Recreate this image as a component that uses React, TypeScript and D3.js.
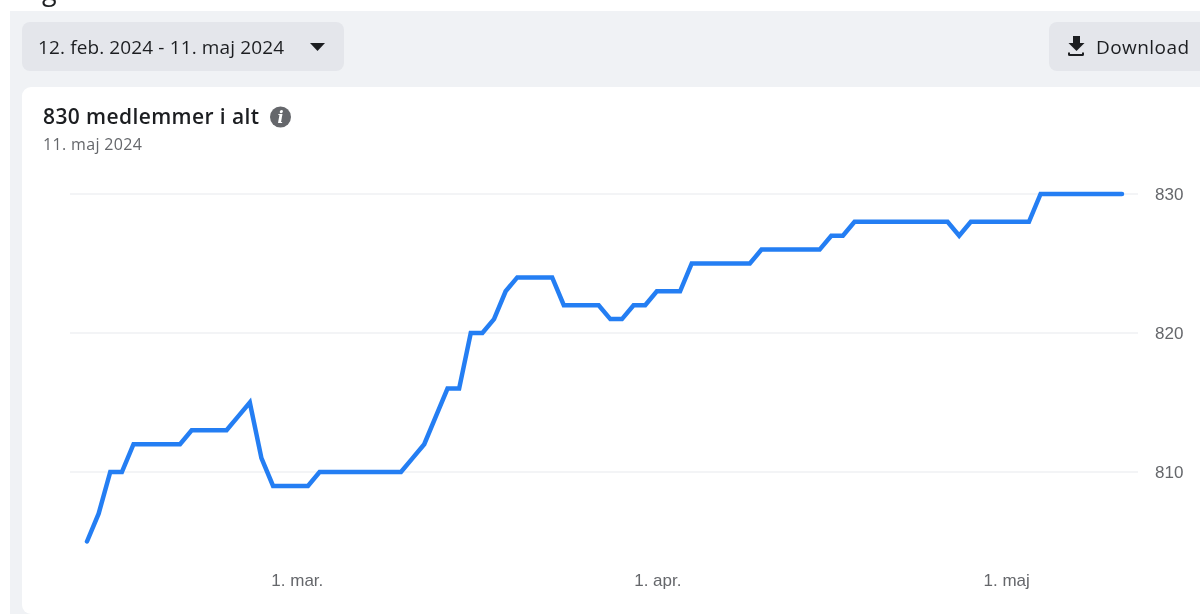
import * as d3 from "d3";

const startDate = new Date(2024, 1, 12);
// one value per day, 12 Feb to 11 May 2024
const members = [
  805, 807, 810, 810, 812, 812, 812, 812, 812, 813,
  813, 813, 813, 814, 815, 811, 809, 809, 809, 809,
  810, 810, 810, 810, 810, 810, 810, 810, 811, 812,
  814, 816, 816, 820, 820, 821, 823, 824, 824, 824,
  824, 822, 822, 822, 822, 821, 821, 822, 822, 823,
  823, 823, 825, 825, 825, 825, 825, 825, 826, 826,
  826, 826, 826, 826, 827, 827, 828, 828, 828, 828,
  828, 828, 828, 828, 828, 827, 828, 828, 828, 828,
  828, 828, 830, 830, 830, 830, 830, 830, 830, 830,
];
const yTicks = [810, 820, 830];
const xTickDates = [new Date(2024, 2, 1), new Date(2024, 3, 1), new Date(2024, 4, 1)];
const xTickLabels = ["1. mar.", "1. apr.", "1. maj"];

const WIDTH = 1200;
const HEIGHT = 614;
const UI_FONT = "'Open Sans', 'Noto Sans', sans-serif";
const AXIS_FONT = "'Liberation Sans', Arial, sans-serif";

export default function App() {
  const series = members.map((v, i) => ({
    date: d3.timeDay.offset(startDate, i),
    value: v,
  }));

  const xScale = d3
    .scaleTime()
    .domain([startDate, series[series.length - 1].date])
    .range([87, 1122]);
  const yScale = d3.scaleLinear().domain([810, 830]).range([472, 194]);

  const line = d3
    .line<{ date: Date; value: number }>()
    .x((d) => xScale(d.date))
    .y((d) => yScale(d.value));

  return (
    <svg
      width={WIDTH}
      height={HEIGHT}
      style={{ position: "fixed", left: 0, top: 0, display: "block" }}
    >
      <rect width={WIDTH} height={HEIGHT} fill="#ffffff" />
      <text x={42} y={0} fontFamily={UI_FONT} fontSize={27} fill="#1c1e21">
        g
      </text>

      {/* Page background */}
      <rect x={10} y={11} width={WIDTH} height={HEIGHT} fill="#f0f2f5" />

      {/* Date range button */}
      <rect x={22} y={22} width={322} height={49} rx={8} fill="#e4e6eb" />
      <text
        x={38}
        y={54}
        fontFamily={UI_FONT}
        fontSize={19}
        textLength={246}
        fill="#1c1e21"
      >
        12. feb. 2024 - 11. maj 2024
      </text>
      <path d="M310,43 h15 l-7.5,8 z" fill="#1c1e21" />

      {/* Download button */}
      <rect x={1049} y={22} width={170} height={49} rx={8} fill="#e4e6eb" />
      <path
        d="M1073,36 h7 v7 h4.5 l-8,8 l-8,-8 h4.5 z M1068,52.5 h0 v2 a1.5,1.5 0 0 0 1.5,1.5 h13 a1.5,1.5 0 0 0 1.5,-1.5 v-2 h-2 v1.5 h-12 v-1.5 z"
        fill="#1c1e21"
      />
      <text
        x={1096}
        y={54}
        fontFamily={UI_FONT}
        fontSize={19}
        textLength={93}
        fill="#1c1e21"
      >
        Download
      </text>

      {/* Card */}
      <rect x={22} y={87} width={1300} height={527} rx={9} fill="#ffffff" />
      <text
        x={43}
        y={124}
        fontFamily={UI_FONT}
        fontSize={21}
        fontWeight={600}
        textLength={216}
        fill="#1c1e21"
      >
        830 medlemmer i alt
      </text>
      <circle cx={280.5} cy={117} r={10.5} fill="#65676b" />
      <text
        x={280.5}
        y={123}
        textAnchor="middle"
        fontFamily="'DejaVu Serif', serif"
        fontSize={16}
        fontWeight={700}
        fontStyle="italic"
        fill="#ffffff"
      >
        i
      </text>
      <text
        x={43}
        y={150}
        fontFamily={UI_FONT}
        fontSize={16}
        textLength={99}
        fill="#65676b"
      >
        11. maj 2024
      </text>

      {/* Grid and y labels */}
      {yTicks.map((t) => (
        <g key={t}>
          <line
            x1={70}
            x2={1138}
            y1={yScale(t)}
            y2={yScale(t)}
            stroke="#e8eaed"
            strokeWidth={1.2}
          />
          <text
            x={1155}
            y={yScale(t) + 6}
            fontFamily={AXIS_FONT}
            fontSize={17}
            fill="#65676b"
          >
            {t}
          </text>
        </g>
      ))}

      {/* x labels */}
      {xTickDates.map((d, i) => (
        <text
          key={xTickLabels[i]}
          x={xScale(d) + 1}
          y={586}
          textAnchor="middle"
          fontFamily={AXIS_FONT}
          fontSize={17}
          fill="#65676b"
        >
          {xTickLabels[i]}
        </text>
      ))}

      {/* Line */}
      <path
        d={line(series) ?? ""}
        fill="none"
        stroke="#1877f2"
        strokeWidth={4.5}
        strokeLinecap="round"
        strokeLinejoin="miter"
        opacity={0.95}
      />
    </svg>
  );
}
